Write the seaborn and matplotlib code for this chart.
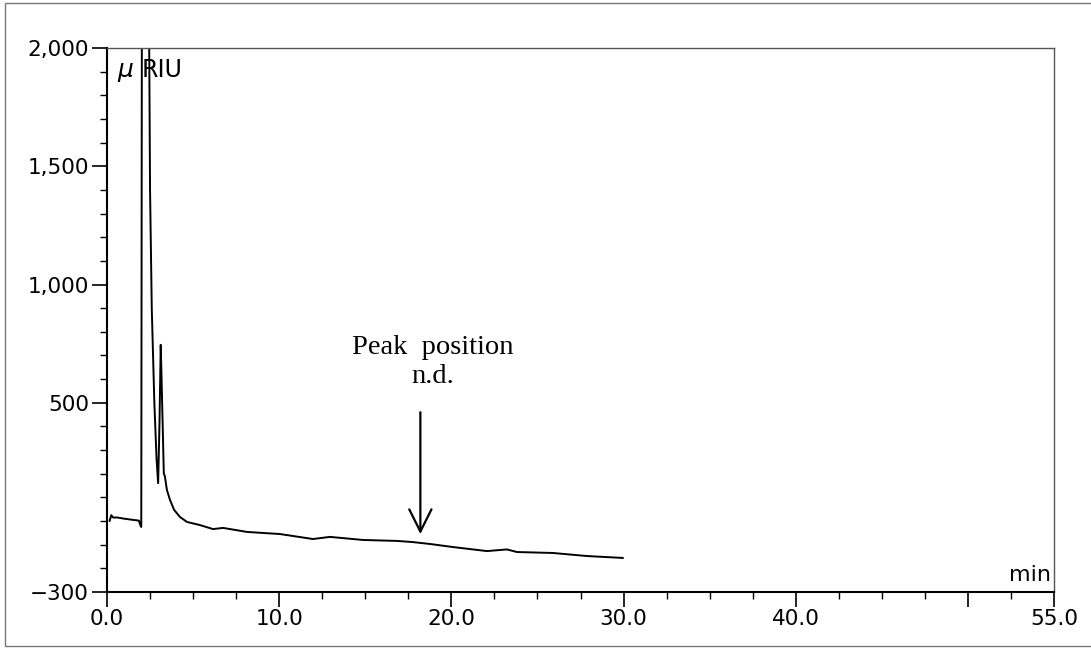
import numpy as np
import pandas as pd
import matplotlib
matplotlib.use("Agg")
import matplotlib.pyplot as plt
from matplotlib.patches import Rectangle
import seaborn as sns

# ---- data ----
time_min = [0.15, 0.25, 0.35, 0.6, 1.0, 1.5, 1.85, 1.95, 1.99,
            2.03, 2.2, 2.42, 2.5, 2.6, 2.75, 2.88, 2.97,
            3.05, 3.12, 3.17, 3.3, 3.36, 3.48, 3.66, 3.9, 4.24, 4.65,
            5.4, 6.16, 6.74, 8.13, 10.05, 11.96, 12.95, 14.87, 16.84,
            17.77, 18.76, 20.1, 22.07, 23.23, 23.81, 25.9, 27.88, 29.97]
signal_uriu = [0, 25, 15, 15, 10, 5, 2, -20, -25,
               2400, 3200, 2400, 1400, 900, 500, 260, 160,
               420, 745, 600, 200, 190, 131, 89, 47, 17, -4,
               -17, -34, -29, -46, -55, -76, -67, -80, -84,
               -89, -97, -110, -127, -120, -131, -135, -148, -156]

x_ticks = [0, 10, 20, 30, 40, 50, 55]
x_tick_labels = ["0.0", "10.0", "20.0", "30.0", "40.0", "", "55.0"]
y_ticks = [-300, 500, 1000, 1500, 2000]
y_tick_labels = ["\u2212300", "500", "1,000", "1,500", "2,000"]

annot_text = "Peak  position\nn.d."
annot_x = 18.9
annot_y = 672
arrow_x = 18.2
arrow_tail_y = 460
arrow_head_y = -55

df = pd.DataFrame({"time": time_min, "signal": signal_uriu})

sns.set_style("ticks")
plt.rcParams["font.family"] = ["DejaVu Sans"]

fig = plt.figure(figsize=(10.91, 6.48), dpi=100)
ax = fig.add_axes([107 / 1091, 1 - 592 / 648, (1054 - 107) / 1091, (592 - 48) / 648])

sns.lineplot(data=df, x="time", y="signal", color="black", linewidth=1.4,
             estimator=None, sort=False, ax=ax)

ax.set_xlim(0, 55)
ax.set_ylim(-300, 2000)
ax.set_xlabel("")
ax.set_ylabel("")

ax.set_xticks(x_ticks)
ax.set_xticklabels(x_tick_labels, fontsize=15.5)
ax.set_xticks(np.arange(0, 55.01, 2.5), minor=True)
ax.set_yticks(y_ticks)
ax.set_yticklabels(y_tick_labels, fontsize=15.5)
ax.set_yticks(np.arange(-300, 2001, 100), minor=True)

ax.tick_params(axis="both", which="major", direction="out", length=11, width=1.2,
               color="black", labelcolor="black")
ax.tick_params(axis="both", which="minor", direction="out", length=5, width=1.0,
               color="black")
ax.tick_params(axis="x", which="major", pad=1)
ax.tick_params(axis="y", which="major", pad=2)

for side in ["left", "bottom"]:
    ax.spines[side].set_color("black")
    ax.spines[side].set_linewidth(1.5)
for side in ["top", "right"]:
    ax.spines[side].set_visible(True)
    ax.spines[side].set_color("#555555")
    ax.spines[side].set_linewidth(1.0)

# unit labels
ax.text(0.011, 0.978, r"$\mu$", transform=ax.transAxes, ha="left", va="top",
        fontsize=18, color="black")
ax.text(0.037, 0.982, "RIU", transform=ax.transAxes, ha="left", va="top",
        fontsize=17, color="black")
ax.text(0.997, 0.012, "min", transform=ax.transAxes, ha="right", va="bottom",
        fontsize=16, color="black")

# annotation
ax.text(annot_x, annot_y, annot_text, ha="center", va="center", fontsize=20.5,
        family=["Liberation Serif"], linespacing=1.2, color="black")
ax.annotate("", xy=(arrow_x, arrow_head_y), xytext=(arrow_x, arrow_tail_y),
            arrowprops=dict(arrowstyle="->", color="black", lw=1.6,
                            mutation_scale=40, shrinkA=0, shrinkB=0))

# scanned page border
fig.patches.append(Rectangle((5 / 1091, 2 / 648), 1.2, 1 - 5 / 648,
                             transform=fig.transFigure, fill=False,
                             edgecolor="#777777", linewidth=1.0))

fig.savefig("out.png", dpi=100)
